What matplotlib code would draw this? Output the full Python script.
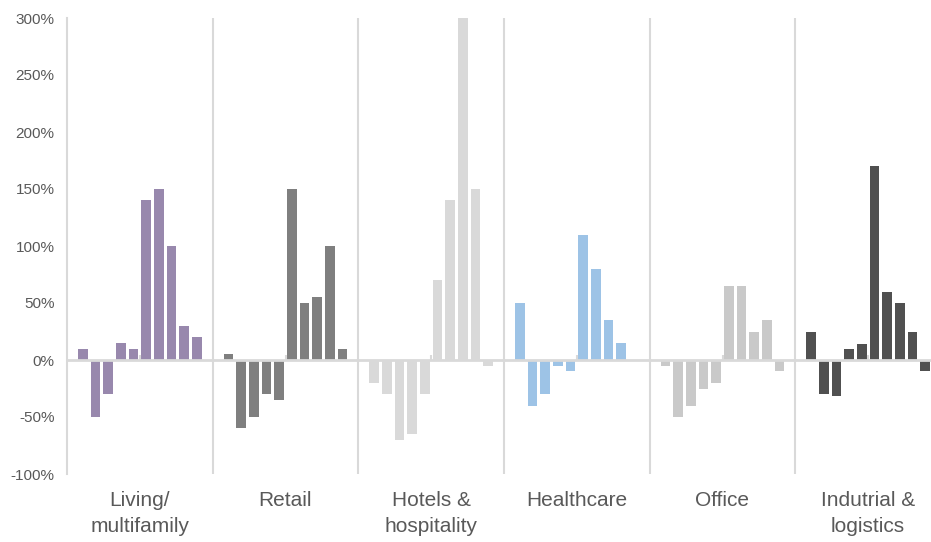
import matplotlib.pyplot as plt
import matplotlib.transforms as mtransforms
import numpy as np

plt.rcParams['font.family'] = ['Liberation Sans', 'DejaVu Sans']

categories = ['Living/\nmultifamily', 'Retail', 'Hotels &\nhospitality',
              'Healthcare', 'Office', 'Indutrial &\nlogistics']

living = [10, -50, -30, 15, 10, 140, 150, 100, 30, 20]
retail = [5, -60, -50, -30, -35, 150, 50, 55, 100, 10]
hotels = [-20, -30, -70, -65, -30, 70, 140, 300, 150, -5]
healthcare = [50, -40, -30, -5, -10, 110, 80, 35, 15, 0]
office = [-5, -50, -40, -25, -20, 65, 65, 25, 35, -10]
industrial = [25, -30, -32, 10, 14, 170, 60, 50, 25, -10]

series = [living, retail, hotels, healthcare, office, industrial]
colors = ['#9888AD', '#7F7F7F', '#D9D9D9', '#9DC3E6', '#C9C9C9', '#505050']

yticks = [-100, -50, 0, 50, 100, 150, 200, 250, 300]

grp_w = 11.5
offset = 1.25
bar_w = 0.78
grid_col = '#D9D9D9'
txt_col = '#595959'

fig = plt.figure(figsize=(9.31, 5.42), dpi=100)
ax = fig.add_axes([67/931, 68/542, 874/931, 456/542])

for g, vals in enumerate(series):
    x = g*grp_w + offset + np.arange(len(vals))
    ax.bar(x, vals, width=bar_w, color=colors[g], zorder=2)

# separators between groups
for g in range(1, len(series)):
    ax.axvline(g*grp_w, color=grid_col, lw=1.5, zorder=1)

# zero line and little center ticks
ax.axhline(0, color=grid_col, lw=2, zorder=3)
centers = np.arange(len(series))*grp_w + grp_w/2
ax.vlines(centers, 0, 4.5, color=grid_col, lw=1.5, zorder=3)

ax.set_xlim(0, len(series)*grp_w)
ax.set_ylim(-100, 300)
ax.set_yticks(yticks)
ax.set_yticklabels(['%d%%' % v for v in yticks])
ax.tick_params(axis='y', length=0, pad=9, labelsize=11, labelcolor=txt_col)
ax.set_xticks([])

for s in ['top', 'right', 'bottom']:
    ax.spines[s].set_visible(False)
ax.spines['left'].set_color(grid_col)
ax.spines['left'].set_linewidth(1.5)

trans = mtransforms.blended_transform_factory(ax.transData, ax.transAxes)
for c, lab in zip(centers, categories):
    ax.text(c, -0.038, lab, transform=trans, ha='center', va='top',
            fontsize=15, color=txt_col, linespacing=1.45)

plt.savefig('out.png', dpi=100)
